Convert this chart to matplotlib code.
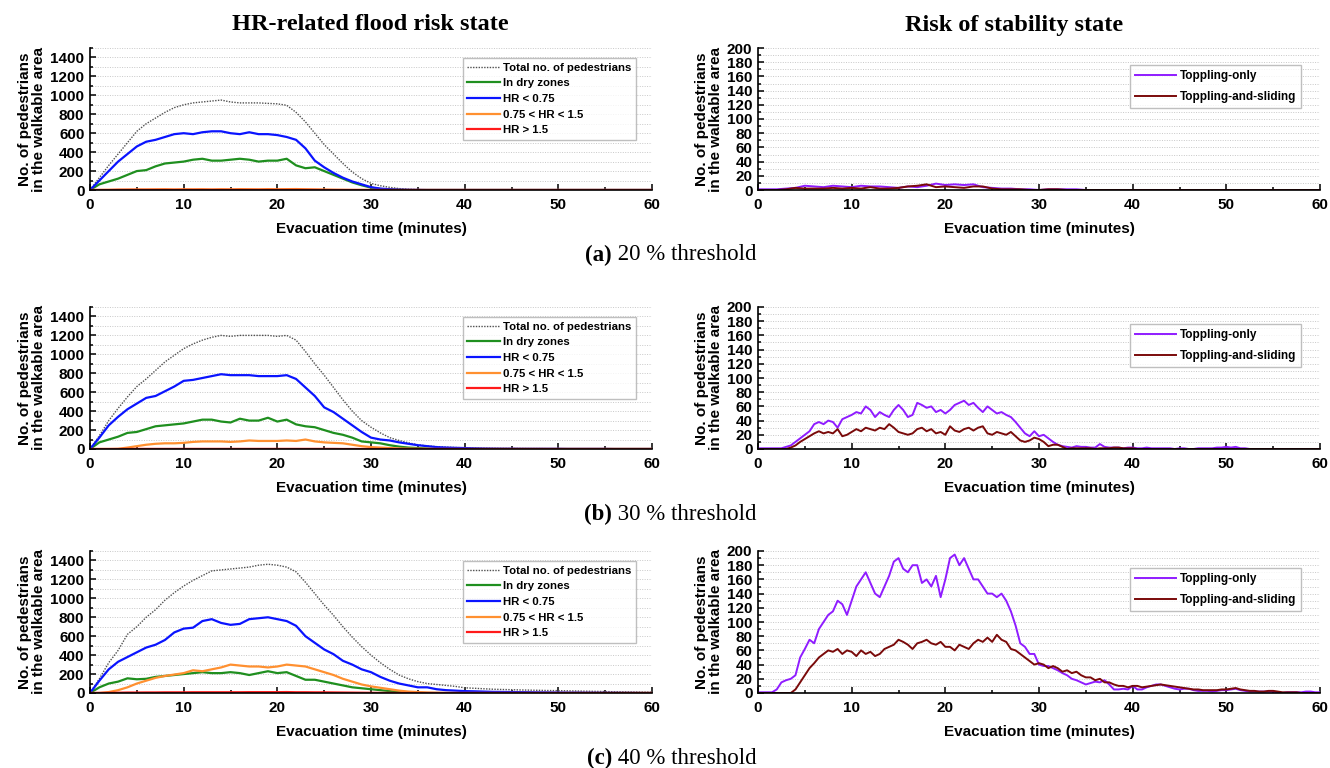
import numpy as np
import matplotlib
matplotlib.use("Agg")
import matplotlib.pyplot as plt
from matplotlib.ticker import MultipleLocator

plt.rcParams['font.family'] = ['Liberation Sans', 'DejaVu Sans']
plt.rcParams['font.weight'] = 'bold'

# time axes (minutes)
t_min = np.arange(0, 61)            # 1-minute readings, left panels + stability (a)
t_half = np.arange(0, 120.5) / 2    # 0.5-minute readings, stability (b) and (c)

# ---------- (a) 20 % threshold: HR-related flood risk ----------
total_a = [0, 130, 260, 380, 500, 620, 700, 760, 820, 870,
           900, 920, 930, 940, 950, 930, 920, 920, 920, 915,
           910, 895, 820, 720, 600, 480, 380, 280, 190, 120,
           70, 45, 28, 15, 8, 4, 2, 1, 0, 0] + [0] * 21
dry_a = [0, 60, 90, 120, 160, 200, 210, 250, 280, 290,
         300, 320, 330, 310, 310, 320, 330, 320, 300, 310,
         310, 330, 260, 230, 240, 200, 160, 120, 80, 50,
         25, 10, 5, 2, 0, 0, 0, 0, 0, 0] + [0] * 21
hr_low_a = [0, 100, 200, 300, 380, 460, 510, 530, 560, 590,
            600, 590, 610, 620, 620, 600, 590, 610, 590, 590,
            580, 560, 530, 440, 310, 240, 180, 130, 90, 60,
            30, 15, 8, 4, 2, 1, 0, 0, 0, 0] + [0] * 21
hr_mid_a = [0, 1, 2, 4, 5, 6, 6, 7, 8, 6,
            8, 7, 8, 6, 8, 7, 9, 8, 7, 9,
            8, 9, 10, 8, 6, 5, 3, 2, 1, 1] + [0] * 31
hr_high_a = [0, 0, 0, 1, 1, 1, 1, 1, 1, 1,
             1, 1, 1, 1, 1, 1, 1, 1, 1, 1,
             1, 1, 1, 1, 1] + [0] * 36

# ---------- (b) 30 % threshold ----------
total_b = [0, 140, 300, 430, 550, 660, 740, 830, 920, 990,
           1060, 1110, 1150, 1180, 1200, 1190, 1200, 1200, 1200, 1200,
           1190, 1200, 1150, 1030, 900, 780, 650, 520, 400, 300,
           230, 170, 120, 90, 65, 45, 32, 25, 20, 16,
           12, 10, 8, 7, 6, 5, 5, 4, 4, 3,
           3, 2, 2, 2, 1, 1, 1, 1, 0, 0, 0]
dry_b = [0, 70, 100, 130, 170, 180, 210, 240, 250, 260,
         270, 290, 310, 310, 290, 280, 320, 300, 300, 330,
         290, 310, 260, 240, 230, 200, 170, 150, 120, 80,
         70, 60, 40, 25, 15, 10, 5, 2, 0, 0] + [0] * 21
hr_low_b = [0, 120, 250, 340, 420, 480, 540, 560, 610, 660,
            720, 730, 750, 770, 790, 780, 780, 780, 770, 770,
            770, 780, 740, 650, 560, 440, 390, 320, 250, 180,
            120, 100, 90, 70, 55, 40, 30, 20, 15, 12,
            10, 7, 5, 4, 3, 3, 2, 2, 2, 2,
            2, 1, 1, 1, 1, 1, 0, 0, 0, 0, 0]
hr_mid_b = [0, 0, 0, 2, 15, 30, 45, 55, 60, 60,
            65, 75, 80, 80, 80, 75, 80, 90, 85, 85,
            85, 90, 85, 100, 80, 70, 65, 60, 45, 30,
            20, 15, 10, 5, 3, 2, 1, 0, 0, 0] + [0] * 21
hr_high_b = [0, 0, 0, 0, 1, 1, 1, 1, 1, 1,
             1, 1, 1, 1, 1, 1, 1, 1, 1, 1,
             1, 1, 1, 1, 1, 1, 1] + [0] * 34

# ---------- (c) 40 % threshold ----------
total_c = [0, 150, 320, 450, 620, 700, 800, 880, 980, 1060,
           1130, 1190, 1240, 1290, 1300, 1310, 1320, 1330, 1350, 1360,
           1350, 1330, 1280, 1170, 1050, 930, 820, 700, 590, 490,
           400, 320, 250, 190, 150, 120, 100, 90, 80, 70,
           55, 50, 45, 40, 37, 35, 32, 30, 28, 26,
           25, 23, 21, 19, 17, 15, 13, 12, 10, 9, 8]
dry_c = [0, 60, 100, 120, 155, 145, 150, 170, 180, 190,
         200, 210, 220, 210, 210, 220, 210, 190, 210, 230,
         210, 220, 180, 140, 140, 120, 100, 80, 60, 50,
         40, 30, 20, 10, 5, 2, 0, 0, 0, 0] + [0] * 21
hr_low_c = [0, 130, 250, 330, 380, 430, 480, 510, 560, 640,
            680, 690, 760, 780, 740, 720, 730, 780, 790, 800,
            780, 760, 710, 600, 530, 460, 410, 340, 300, 250,
            220, 170, 130, 100, 80, 60, 60, 40, 30, 25,
            20, 18, 15, 12, 11, 10, 9, 8, 7, 6,
            5, 4, 4, 3, 3, 2, 2, 1, 1, 0, 0]
hr_mid_c = [0, 0, 10, 30, 60, 100, 130, 160, 180, 195,
            210, 240, 230, 250, 270, 300, 290, 280, 280, 270,
            280, 300, 290, 280, 250, 220, 190, 150, 120, 90,
            70, 55, 40, 25, 15, 10, 5, 2, 0, 0] + [0] * 21
hr_high_c = [0, 1, 2, 3, 5, 5, 6, 6, 7, 7,
             7, 8, 8, 8, 8, 8, 8, 9, 9, 9,
             9, 10, 8, 8, 7, 7, 6, 5, 4, 3,
             2, 1, 1] + [0] * 28

# ---------- stability state ----------
topple_a = [1, 1, 1, 2, 3, 6, 5, 4, 6, 5,
            4, 6, 5, 5, 4, 3, 5, 4, 6, 9,
            7, 8, 7, 8, 4, 3, 2, 2, 1, 1,
            0, 1, 1, 1, 1] + [0] * 26
slide_a = [0, 0, 0, 1, 3, 2, 2, 2, 3, 2,
           3, 2, 4, 2, 2, 3, 5, 6, 8, 4,
           5, 4, 3, 5, 5, 2, 1, 1, 1, 0,
           0, 1, 1] + [0] * 28

topple_b = [1, 1, 1, 1, 1, 1, 3, 5, 10, 15,
            20, 25, 35, 38, 35, 40, 38, 30, 42, 45,
            48, 52, 50, 60, 55, 45, 52, 48, 45, 55,
            62, 55, 45, 48, 65, 62, 58, 60, 52, 55,
            50, 55, 62, 65, 68, 62, 65, 58, 52, 60,
            55, 50, 52, 48, 45, 38, 30, 22, 18, 25,
            18, 20, 15, 10, 6, 4, 3, 2, 4, 3,
            3, 2, 2, 7, 3, 2, 2, 2, 1, 2,
            2, 1, 1, 2, 1, 1, 1, 1, 1, 0,
            1, 1, 0, 0, 1, 1, 1, 1, 2, 2,
            3, 2, 3, 1, 1] + [0] * 16
slide_b = [0, 0, 0, 0, 0, 0, 0, 2, 5, 10,
           14, 18, 22, 25, 22, 24, 22, 28, 18, 20,
           24, 28, 25, 30, 28, 26, 30, 28, 35, 30,
           24, 22, 20, 22, 28, 30, 25, 28, 22, 24,
           20, 32, 26, 24, 28, 30, 26, 30, 32, 22,
           20, 24, 22, 20, 24, 18, 12, 10, 12, 16,
           14, 10, 4, 6, 6, 3, 0, 1, 1, 1,
           1, 1, 0, 1, 1, 1, 2, 2, 1, 1,
           1] + [0] * 40

topple_c = [1, 1, 1, 1, 5, 15, 18, 20, 25, 50,
            62, 75, 70, 90, 100, 110, 115, 130, 125, 110,
            130, 150, 160, 170, 155, 140, 135, 150, 165, 185,
            190, 175, 170, 180, 180, 155, 160, 150, 165, 135,
            160, 190, 195, 180, 190, 175, 160, 160, 150, 140,
            140, 135, 140, 130, 115, 95, 70, 65, 55, 55,
            40, 38, 38, 35, 32, 28, 25, 20, 18, 15,
            12, 14, 16, 15, 18, 12, 5, 5, 6, 5,
            10, 5, 5, 8, 10, 12, 12, 10, 8, 6,
            5, 6, 6, 4, 3, 3, 3, 2, 3, 4,
            4, 5, 6, 4, 3, 2, 2, 2, 2, 2,
            2, 1, 0, 1, 1, 1, 1, 2, 2, 1,
            1]
slide_c = [0, 0, 0, 0, 0, 0, 0, 0, 5, 15,
           25, 35, 42, 50, 55, 60, 58, 62, 55, 60,
           58, 52, 60, 55, 58, 52, 55, 62, 65, 68,
           75, 72, 68, 62, 70, 72, 75, 70, 68, 72,
           65, 65, 60, 68, 65, 62, 70, 75, 72, 78,
           72, 82, 75, 72, 62, 60, 55, 50, 45, 40,
           42, 40, 35, 38, 35, 30, 32, 28, 30, 25,
           22, 22, 18, 20, 15, 15, 12, 10, 10, 8,
           10, 10, 8, 9, 10, 11, 12, 11, 10, 9,
           8, 7, 6, 5, 5, 4, 4, 4, 4, 5,
           5, 6, 7, 5, 4, 3, 3, 2, 2, 3,
           3, 2, 1, 1, 1, 1, 0, 0, 0, 0,
           0]

hr_labels = ['Total no. of pedestrians', 'In dry zones', 'HR < 0.75',
             '0.75 < HR < 1.5', 'HR > 1.5']
hr_colors = ['#505050', '#1f8f1f', '#0a14ff', '#ff9030', '#ff1a1a']
stab_labels = ['Toppling-only', 'Toppling-and-sliding']
stab_colors = ['#8f1cff', '#7a0a0a']
captions = [('(a)', ' 20 % threshold'), ('(b)', ' 30 % threshold'), ('(c)', ' 40 % threshold')]

hr_rows = [(total_a, dry_a, hr_low_a, hr_mid_a, hr_high_a),
           (total_b, dry_b, hr_low_b, hr_mid_b, hr_high_b),
           (total_c, dry_c, hr_low_c, hr_mid_c, hr_high_c)]
stab_rows = [(t_min, topple_a, slide_a), (t_half, topple_b, slide_b), (t_half, topple_c, slide_c)]

W, H = 1330, 768
fig = plt.figure(figsize=(W / 100, H / 100), dpi=100)

row_top = [48, 307, 551]
ax_h = 142


def style_axis(ax, ymax, ymaj, ymin):
    ax.set_xlim(0, 60)
    ax.set_ylim(0, ymax)
    ax.xaxis.set_major_locator(MultipleLocator(10))
    ax.xaxis.set_minor_locator(MultipleLocator(5))
    ax.yaxis.set_major_locator(MultipleLocator(ymaj))
    ax.yaxis.set_minor_locator(MultipleLocator(ymin))
    ax.spines['top'].set_visible(False)
    ax.spines['right'].set_visible(False)
    for s in ('left', 'bottom'):
        ax.spines[s].set_linewidth(1.2)
    ax.tick_params(which='both', direction='in', width=1.1, labelsize=11)
    ax.tick_params(axis='x', pad=6)
    ax.tick_params(axis='y', pad=4)
    ax.tick_params(which='major', length=4)
    ax.tick_params(which='minor', length=2.5)
    ax.grid(axis='y', which='both', linestyle=(0, (1, 1.5)), color='#c8c8c8', linewidth=0.7)
    ax.set_axisbelow(True)
    for lab in ax.get_xticklabels() + ax.get_yticklabels():
        lab.set_fontweight('bold')
    ax.set_xlabel('Evacuation time (minutes)', fontsize=11, fontweight='bold', labelpad=7)
    ax.set_ylabel('No. of pedestrians\nin the walkable area', fontsize=11, fontweight='bold',
                  labelpad=3, linespacing=1.0)


for i in range(3):
    bottom = 1 - (row_top[i] + ax_h) / H
    axl = fig.add_axes([90 / W, bottom, 562 / W, ax_h / H])
    axr = fig.add_axes([758 / W, bottom, 562 / W, ax_h / H])

    series = hr_rows[i]
    axl.plot(t_min, series[0], color=hr_colors[0], linestyle=(0, (1, 1)), linewidth=1.0,
             label=hr_labels[0])
    for k in range(1, 5):
        axl.plot(t_min, series[k], color=hr_colors[k], linewidth=1.6, label=hr_labels[k])
    style_axis(axl, 1500, 200, 100)
    axl.legend(loc='upper right', bbox_to_anchor=(0.975, 0.945), frameon=True,
               fancybox=False, edgecolor='#b0b0b0', handlelength=2.9, labelspacing=0.5,
               borderpad=0.4, handletextpad=0.2, borderaxespad=0.2,
               prop={'weight': 'bold', 'size': 8.2})

    tx, top_s, slide_s = stab_rows[i]
    axr.plot(tx, top_s, color=stab_colors[0], linewidth=1.4, label=stab_labels[0])
    axr.plot(tx, slide_s, color=stab_colors[1], linewidth=1.4, label=stab_labels[1])
    style_axis(axr, 200, 20, 10)
    axr.legend(loc='upper right', bbox_to_anchor=(0.97, 0.895), frameon=True,
               fancybox=False, edgecolor='#b0b0b0', handlelength=3.5, labelspacing=0.75,
               borderpad=0.4, handletextpad=0.3, borderaxespad=0.2,
               prop={'weight': 'bold', 'size': 8.5})

    # caption under each row
    cy = 1 - (row_top[i] + 207) / H
    fig.text(612 / W, cy, captions[i][0], ha='right', va='center', fontsize=16.5,
             family='Liberation Serif', fontweight='bold')
    fig.text(612 / W, cy, captions[i][1], ha='left', va='center', fontsize=16.5,
             family='Liberation Serif', fontweight='normal')

fig.text(370 / W, 1 - 25 / H, 'HR-related flood risk state', ha='center', va='center',
         fontsize=17.5, family='Liberation Serif', fontweight='bold')
fig.text(1014 / W, 1 - 25 / H, 'Risk of stability state', ha='center', va='center',
         fontsize=17.5, family='Liberation Serif', fontweight='bold')

fig.savefig('out.png', dpi=100)
